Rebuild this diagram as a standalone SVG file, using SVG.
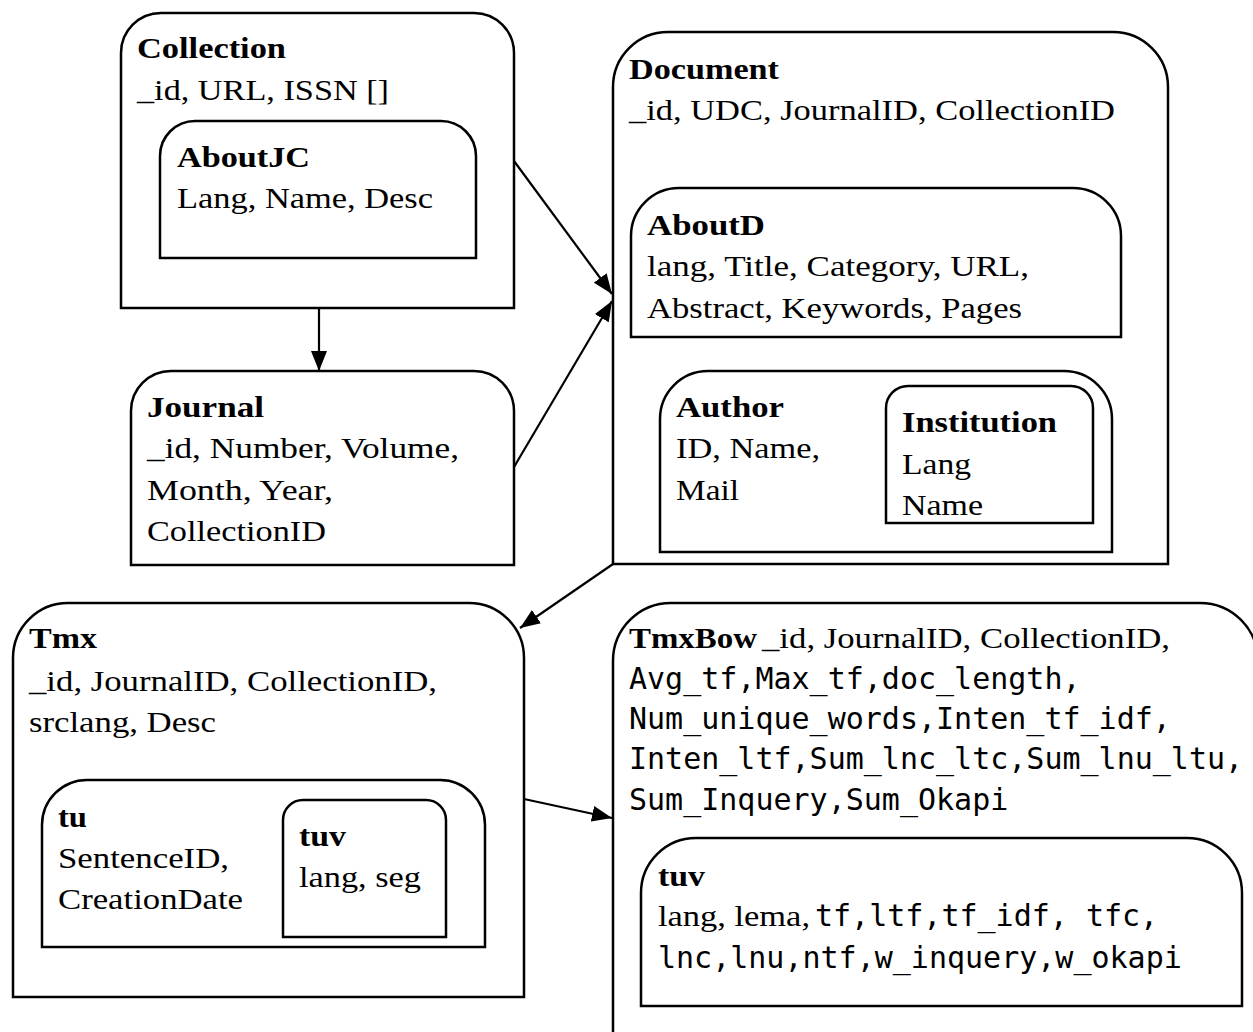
<svg xmlns="http://www.w3.org/2000/svg" width="1253" height="1032" viewBox="0 0 1253 1032">
<style>
.box{fill:none;stroke:#000;stroke-width:2.5}
.t{font-family:"Liberation Serif","Times New Roman",serif;font-size:30px;fill:#000}
.b{font-weight:bold}
.m{font-family:"DejaVu Sans Mono","Liberation Mono",monospace;font-size:30px;fill:#000}
.c{fill:none;stroke:#000;stroke-width:2.2}
</style>
<defs>
<marker id="ah" viewBox="0 0 20 16" refX="20" refY="8" markerWidth="20" markerHeight="16" markerUnits="userSpaceOnUse" orient="auto">
<path d="M0,0 L20,8 L0,16 Z" fill="#000"/>
</marker>
</defs>
<rect width="1253" height="1032" fill="#fff"/>

<g id="collection">
<path class="box" d="M121,308 V53 A40,40 0 0 1 161,13 H474 A40,40 0 0 1 514,53 V308 Z"/>
<text class="t b" x="137" y="58" textLength="149" lengthAdjust="spacingAndGlyphs">Collection</text>
<text class="t" x="137" y="100" textLength="252" lengthAdjust="spacingAndGlyphs">_id, URL, ISSN []</text>
</g>
<g id="aboutjc">
<path class="box" d="M160,258 V156 A35,35 0 0 1 195,121 H441 A35,35 0 0 1 476,156 V258 Z"/>
<text class="t b" x="177" y="167" textLength="133" lengthAdjust="spacingAndGlyphs">AboutJC</text>
<text class="t" x="177" y="208" textLength="256" lengthAdjust="spacingAndGlyphs">Lang, Name, Desc</text>
</g>

<g id="journal">
<path class="box" d="M131,565 V411 A40,40 0 0 1 171,371 H474 A40,40 0 0 1 514,411 V565 Z"/>
<text class="t b" x="147" y="417" textLength="117" lengthAdjust="spacingAndGlyphs">Journal</text>
<text class="t" x="147" y="458" textLength="312" lengthAdjust="spacingAndGlyphs">_id, Number, Volume,</text>
<text class="t" x="147" y="500" textLength="186" lengthAdjust="spacingAndGlyphs">Month, Year,</text>
<text class="t" x="147" y="541" textLength="179" lengthAdjust="spacingAndGlyphs">CollectionID</text>
</g>

<g id="document">
<path class="box" d="M613,564 V87 A55,55 0 0 1 668,32 H1113 A55,55 0 0 1 1168,87 V564 Z"/>
<text class="t b" x="629" y="79" textLength="150" lengthAdjust="spacingAndGlyphs">Document</text>
<text class="t" x="629" y="120" textLength="486" lengthAdjust="spacingAndGlyphs">_id, UDC, JournalID, CollectionID</text>
</g>
<g id="aboutd">
<path class="box" d="M631,337 V236 A48,48 0 0 1 679,188 H1073 A48,48 0 0 1 1121,236 V337 Z"/>
<text class="t b" x="647" y="235" textLength="118" lengthAdjust="spacingAndGlyphs">AboutD</text>
<text class="t" x="647" y="276" textLength="382" lengthAdjust="spacingAndGlyphs">lang, Title, Category, URL,</text>
<text class="t" x="647" y="318" textLength="375" lengthAdjust="spacingAndGlyphs">Abstract, Keywords, Pages</text>
</g>
<g id="author">
<path class="box" d="M660,552 V419 A48,48 0 0 1 708,371 H1064 A48,48 0 0 1 1112,419 V552 Z"/>
<text class="t b" x="676" y="417" textLength="108" lengthAdjust="spacingAndGlyphs">Author</text>
<text class="t" x="676" y="458" textLength="144" lengthAdjust="spacingAndGlyphs">ID, Name,</text>
<text class="t" x="676" y="500" textLength="63" lengthAdjust="spacingAndGlyphs">Mail</text>
</g>
<g id="institution">
<path class="box" d="M886,523 V408 A22,22 0 0 1 908,386 H1071 A22,22 0 0 1 1093,408 V523 Z"/>
<text class="t b" x="902" y="432" textLength="155" lengthAdjust="spacingAndGlyphs">Institution</text>
<text class="t" x="902" y="474" textLength="69" lengthAdjust="spacingAndGlyphs">Lang</text>
<text class="t" x="902" y="515" textLength="81" lengthAdjust="spacingAndGlyphs">Name</text>
</g>

<g id="tmx">
<path class="box" d="M13,997 V658 A55,55 0 0 1 68,603 H469 A55,55 0 0 1 524,658 V997 Z"/>
<text class="t b" x="29" y="648" textLength="68" lengthAdjust="spacingAndGlyphs">Tmx</text>
<text class="t" x="29" y="691" textLength="408" lengthAdjust="spacingAndGlyphs">_id, JournalID, CollectionID,</text>
<text class="t" x="29" y="732" textLength="187" lengthAdjust="spacingAndGlyphs">srclang, Desc</text>
</g>
<g id="tu">
<path class="box" d="M42,947 V825 A45,45 0 0 1 87,780 H440 A45,45 0 0 1 485,825 V947 Z"/>
<text class="t b" x="58" y="827" textLength="29" lengthAdjust="spacingAndGlyphs">tu</text>
<text class="t" x="58" y="868" textLength="171" lengthAdjust="spacingAndGlyphs">SentenceID,</text>
<text class="t" x="58" y="909" textLength="185" lengthAdjust="spacingAndGlyphs">CreationDate</text>
</g>
<g id="tuv-tmx">
<path class="box" d="M283,937 V820 A20,20 0 0 1 303,800 H426 A20,20 0 0 1 446,820 V937 Z"/>
<text class="t b" x="299" y="846" textLength="47" lengthAdjust="spacingAndGlyphs">tuv</text>
<text class="t" x="299" y="887" textLength="122" lengthAdjust="spacingAndGlyphs">lang, seg</text>
</g>

<g id="tmxbow">
<path class="box" d="M613,1040 V661 A58,58 0 0 1 671,603 H1200 A58,58 0 0 1 1258,661 V1040"/>
<text class="t b" x="629" y="648" textLength="128" lengthAdjust="spacingAndGlyphs">TmxBow</text>
<text class="t" x="762" y="648" textLength="408" lengthAdjust="spacingAndGlyphs">_id, JournalID, CollectionID,</text>
<text class="m" x="629" y="689">Avg_tf,Max_tf,doc_length,</text>
<text class="m" x="629" y="729">Num_unique_words,Inten_tf_idf,</text>
<text class="m" x="629" y="769">Inten_ltf,Sum_lnc_ltc,Sum_lnu_ltu,</text>
<text class="m" x="629" y="810">Sum_Inquery,Sum_Okapi</text>
</g>
<g id="tuv-tmxbow">
<path class="box" d="M641,1006 V893 A55,55 0 0 1 696,838 H1187 A55,55 0 0 1 1242,893 V1006 Z"/>
<text class="t b" x="658" y="886" textLength="47" lengthAdjust="spacingAndGlyphs">tuv</text>
<text class="t" x="658" y="926" textLength="152" lengthAdjust="spacingAndGlyphs">lang, lema,</text>
<text class="m" x="815" y="926">tf,ltf,tf_idf, tfc,</text>
<text class="m" x="658" y="968">lnc,lnu,ntf,w_inquery,w_okapi</text>
</g>

<g id="connectors">
<path class="c" d="M319,308 L319,371" marker-end="url(#ah)"/>
<path class="c" d="M514,161 L612,294" marker-end="url(#ah)"/>
<path class="c" d="M514,467 L612,301" marker-end="url(#ah)"/>
<path class="c" d="M613,564 L520,628" marker-end="url(#ah)"/>
<path class="c" d="M524,799 L612,818" marker-end="url(#ah)"/>
</g>
</svg>
